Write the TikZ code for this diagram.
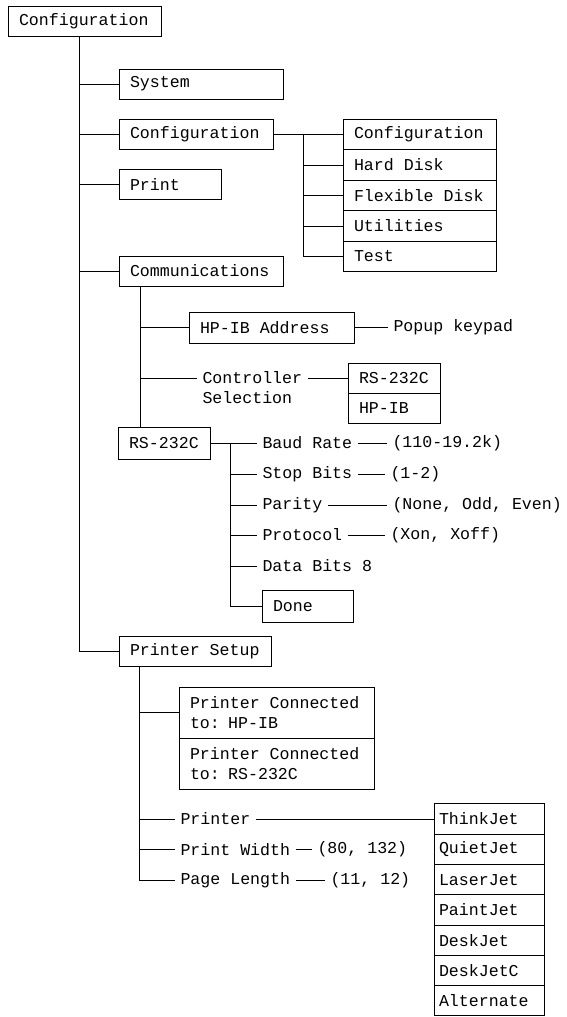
\documentclass[tikz,border=0pt]{standalone}
\usepackage{fontspec}
\setmainfont{Liberation Mono}[WordSpace={1,0,0}]
\usetikzlibrary{positioning}
\tikzset{
  menubox/.style={draw, outer sep=0pt, inner xsep=5.5pt, inner ysep=0pt, minimum height=15pt, text width=#1, align=left, anchor=west, execute at begin node={\spaceskip=0pt\relax}},
  listbox/.style={draw, outer sep=0pt, inner xsep=5.5pt, inner ysep=0pt, minimum height=15.25pt, text width=#1, align=left, execute at begin node={\spaceskip=0pt\relax}},
  plainlabel/.style={anchor=west, inner xsep=2.5pt, inner ysep=0pt},
}
\begin{document}
\begin{tikzpicture}[x=0.5pt, y=-0.5pt, line width=0.5pt, font=\fontsize{8.3}{10}\selectfont]
        \useasboundingbox (0,0) rectangle (567,1017);
        \node[menubox=65.5pt] (root) at (8,21) {Configuration};
        \node[menubox=71pt] (sys) at (119,84) {System};
        \node[menubox=66pt] (conf) at (119,134) {Configuration};
        \node[menubox=40pt] (prnt) at (119,184.5) {Print};
        \node[menubox=71pt] (comm) at (119,271) {Communications};
        \node[menubox=65pt] (setup) at (119,651.5) {Printer Setup};
        \coordinate (trunk) at (79,36);
        \draw (trunk) |- (setup.west);
        \foreach \n in {sys,conf,prnt,comm}
          \draw (trunk |- \n.west) -- (\n.west);

        \node[menubox=65.5pt, minimum height=15.25pt] (cfgconf) at (343,134.5) {Configuration};
        \node[listbox=65.5pt, below=0pt of cfgconf] (cfghd) {Hard Disk};
        \node[listbox=65.5pt, below=0pt of cfghd] (cfgflex) {Flexible Disk};
        \node[listbox=65.5pt, below=0pt of cfgflex] (cfgutil) {Utilities};
        \node[listbox=65.5pt, below=0pt of cfgutil] (cfgtest) {Test};
        \coordinate (cfgtrunk) at (303,134.5);
        \draw (conf.east |- cfgconf.west) -- (cfgconf.west);
        \draw (cfgtrunk) |- (cfgtest.west);
        \foreach \n in {cfghd,cfgflex,cfgutil}
          \draw (cfgtrunk |- \n.west) -- (\n.west);

        \node[menubox=71.5pt, minimum height=15.5pt] (hpib) at (189,327.5) {HP-IB Address};
        \node[plainlabel] (popup) at (388,327.5) {Popup keypad};
        \node[plainlabel] (ctrl) at (197,378) {Controller};
        \node[plainlabel] (ctrlsel) at (197,398) {Selection};
        \node[listbox=35pt, anchor=west, minimum height=15pt] (cselrs) at (348,378) {RS-232C};
        \node[listbox=35pt, minimum height=15pt, below=0pt of cselrs] (cselhp) {HP-IB};
        \node[menubox=35pt, minimum height=16pt] (rs) at (118,443) {RS-232C};
        \coordinate (ctrunk) at (140,286);
        \draw (ctrunk) -- (ctrunk |- rs.north);
        \draw (ctrunk |- hpib.west) -- (hpib.west);
        \draw (ctrunk |- ctrl.west) -- (ctrl.west);
        \draw (hpib.east) -- (popup.west);
        \draw (ctrl.east) -- (cselrs.west);

        \node[plainlabel] (baud) at (257,443) {Baud Rate};
        \node[plainlabel] (stop) at (257,474) {Stop Bits};
        \node[plainlabel] (parity) at (257,505) {Parity};
        \node[plainlabel] (proto) at (257,535) {Protocol};
        \node[plainlabel] (databits) at (257,566) {Data Bits 8};
        \node[menubox=34.5pt, minimum height=16pt] (done) at (262,606) {Done};
        \node[plainlabel] (baudval) at (387,443) {(110-19.2k)};
        \node[plainlabel] (stopval) at (385,474) {(1-2)};
        \node[plainlabel] (parityval) at (387,505) {(None, Odd, Even)};
        \node[plainlabel] (protoval) at (385,535) {(Xon, Xoff)};
        \coordinate (rtrunk) at (230,443);
        \draw (rs.east) -- (baud.west);
        \draw (rtrunk) |- (done.west);
        \foreach \n in {stop,parity,proto,databits}
          \draw (rtrunk |- \n.west) -- (\n.west);
        \draw (baud.east) -- (baudval.west);
        \draw (stop.east) -- (stopval.west);
        \draw (parity.east) -- (parityval.west);
        \draw (proto.east) -- (protoval.west);

        \node[menubox=86.5pt, minimum height=25.5pt] (pchp) at (179,712.5) {Printer Connected\\to: HP-IB};
        \node[listbox=86.5pt, minimum height=25.5pt, below=0pt of pchp] (pcrs) {Printer Connected\\to: RS-232C};
        \node[plainlabel] (printer) at (175,819) {Printer};
        \node[plainlabel] (pwidth) at (175,849.5) {Print Width};
        \node[plainlabel] (plength) at (175,880) {Page Length};
        \node[plainlabel] (pwval) at (312,849.5) {(80, 132)};
        \node[plainlabel] (plval) at (325,880) {(11, 12)};
        \node[listbox=50pt, inner xsep=2.5pt, anchor=west, minimum height=15.15pt] (pthink) at (434,819) {ThinkJet};
        \node[listbox=50pt, inner xsep=2.5pt, minimum height=15.15pt, below=0pt of pthink] (pquiet) {QuietJet};
        \node[listbox=50pt, inner xsep=2.5pt, minimum height=15.15pt, below=0pt of pquiet] (plaser) {LaserJet};
        \node[listbox=50pt, inner xsep=2.5pt, minimum height=15.15pt, below=0pt of plaser] (ppaint) {PaintJet};
        \node[listbox=50pt, inner xsep=2.5pt, minimum height=15.15pt, below=0pt of ppaint] (pdesk) {DeskJet};
        \node[listbox=50pt, inner xsep=2.5pt, minimum height=15.15pt, below=0pt of pdesk] (pdeskc) {DeskJetC};
        \node[listbox=50pt, inner xsep=2.5pt, minimum height=15.15pt, below=0pt of pdeskc] (palt) {Alternate};
        \coordinate (strunk) at (139,666);
        \draw (strunk) |- (plength.west);
        \foreach \n in {pchp,printer,pwidth}
          \draw (strunk |- \n.west) -- (\n.west);
        \draw (printer.east) -- (pthink.west);
        \draw (pwidth.east) -- (pwval.west);
        \draw (plength.east) -- (plval.west);
\end{tikzpicture}
\end{document}
